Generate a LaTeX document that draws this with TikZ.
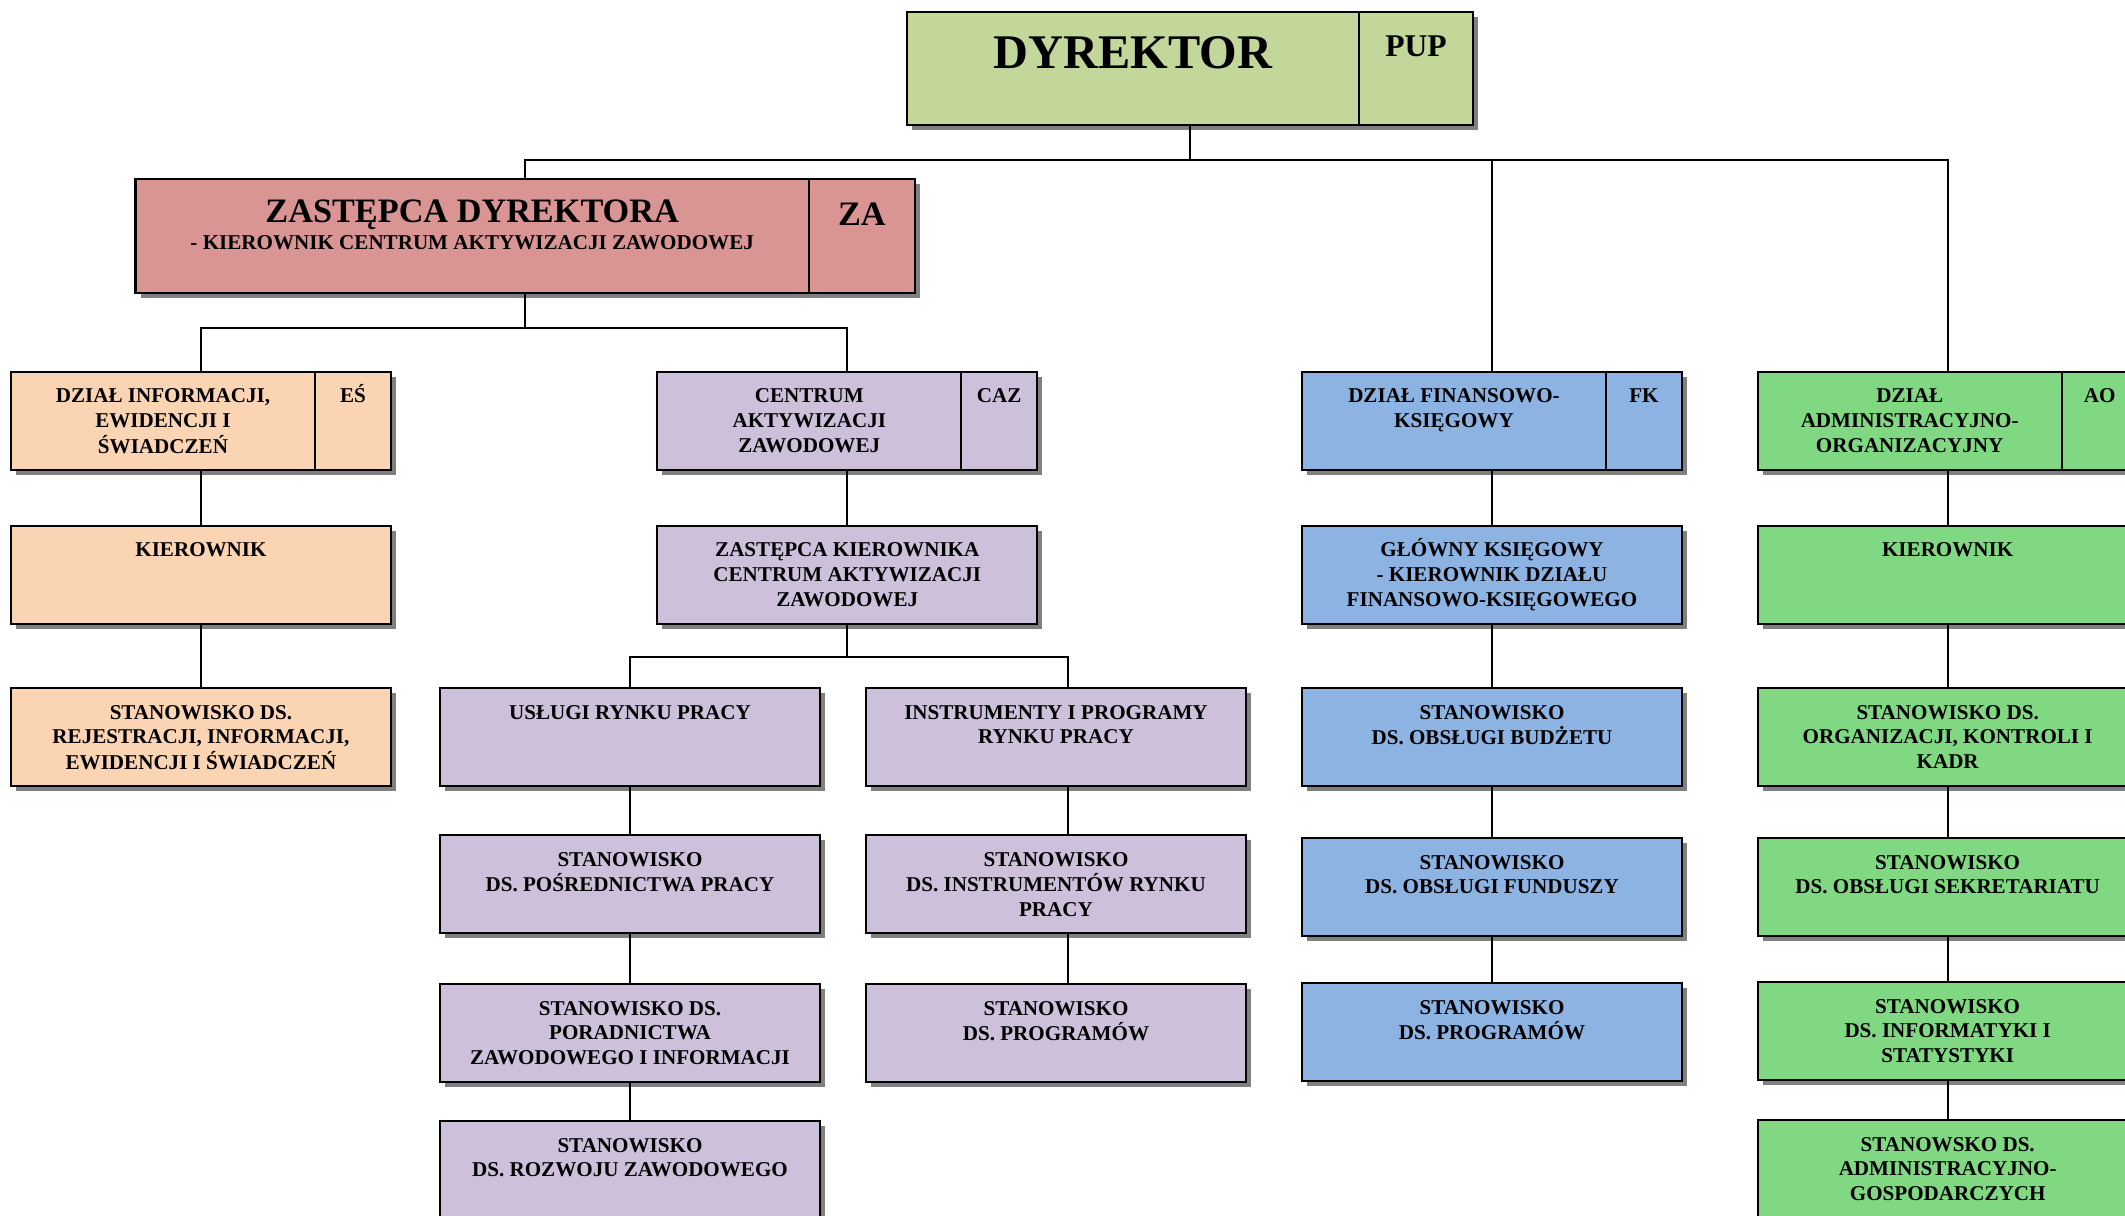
\documentclass[tikz,border=0pt]{standalone}
\usepackage{fontspec}
\setmainfont{Liberation Serif}
\usetikzlibrary{shadows}

\definecolor{dyrgreen}{HTML}{C4D79B}
\definecolor{zapink}{HTML}{D99594}
\definecolor{espeach}{HTML}{FBD4B4}
\definecolor{cazlilac}{HTML}{CCC0DA}
\definecolor{fkblue}{HTML}{8DB3E2}
\definecolor{aogreen}{HTML}{80D982}

% lines stacked from the top, baseline = first line
\newcommand\boxtext[1]{\begin{tabular}[t]{@{}c@{}}#1\end{tabular}}

\begin{document}
\begin{tikzpicture}[x=0.02cm, y=-0.02cm,
  box/.style={draw, line width=1.2pt, fill=#1, inner sep=0, outer sep=0, anchor=north west,
    minimum width=7.6cm, minimum height=1.96cm,
    general shadow={fill=black!50, shadow xshift=0.1cm, shadow yshift=-0.1cm}},
  lbl/.style={anchor=base, inner sep=0, font=\fontsize{12}{14}\selectfont\bfseries, yshift=#1},
  lbl/.default=-0.62cm,
  link/.style={line width=1pt},
  sep/.style={line width=1.2pt}]
\useasboundingbox (0,0) rectangle (2125,1216);

% dyrektor i zastepca
\node[box=dyrgreen, minimum width=11.33cm, minimum height=2.25cm] (dyr) at (906.6,12.2) {};
\draw[sep] ([xshift=-2.28cm]dyr.north east) -- ([xshift=-2.28cm]dyr.south east);
\node[lbl=-1.12cm, font=\fontsize{27.5}{32}\selectfont\bfseries] (dyr-t) at ([xshift=-1.14cm]dyr.north) {DYREKTOR};
\node[lbl=-0.88cm, font=\fontsize{18}{21}\selectfont\bfseries] (dyr-k) at ([xshift=-1.14cm]dyr.north east) {PUP};

\node[box=zapink, minimum width=15.59cm, minimum height=2.28cm] (za) at (135.5,179.3) {};
\draw[sep] ([xshift=-2.12cm]za.north east) -- ([xshift=-2.12cm]za.south east);
\node[lbl=-0.87cm, font=\fontsize{19.5}{23}\selectfont\bfseries] (za-t) at ([xshift=-1.06cm]za.north) {ZASTĘPCA DYREKTORA};
\node[lbl=-1.40cm] (za-s) at ([xshift=-1.06cm]za.north) {- KIEROWNIK CENTRUM AKTYWIZACJI ZAWODOWEJ};
\node[lbl=-0.93cm, font=\fontsize{19.5}{23}\selectfont\bfseries] (za-k) at ([xshift=-1.06cm]za.north east) {ZA};

% dzialy
\foreach \n/\col/\xpos/\txt/\kod in {es/espeach/11/{DZIAŁ INFORMACJI,\\EWIDENCJI I\\ŚWIADCZEŃ}/EŚ,
    caz/cazlilac/657.3/{CENTRUM\\AKTYWIZACJI\\ZAWODOWEJ}/CAZ,
    fk/fkblue/1302/{DZIAŁ FINANSOWO-\\KSIĘGOWY}/FK,
    ao/aogreen/1757.7/{DZIAŁ\\ADMINISTRACYJNO-\\ORGANIZACYJNY}/AO}{%
  \node[box=\col] (\n) at (\xpos,372) {};
  \draw[sep] ([xshift=-1.52cm]\n.north east) -- ([xshift=-1.52cm]\n.south east);
  \node[lbl] (\n-t) at ([xshift=-0.76cm]\n.north) {\boxtext{\txt}};
  \node[lbl] (\n-k) at ([xshift=-0.76cm]\n.north east) {\kod};}

% stanowiska
\foreach \n/\ypos/\txt in {esk/526/KIEROWNIK,
    es1/688/{STANOWISKO DS.\\REJESTRACJI, INFORMACJI,\\EWIDENCJI I ŚWIADCZEŃ}}{%
  \node[box=espeach] (\n) at (11,\ypos) {};
  \node[lbl] (\n-t) at (\n.north) {\boxtext{\txt}};}

\node[box=cazlilac] (cazz) at (657.3,526) {};
\node[lbl] (cazz-t) at (cazz.north) {\boxtext{ZASTĘPCA KIEROWNIKA\\CENTRUM AKTYWIZACJI\\ZAWODOWEJ}};

\foreach \n/\ypos/\txt in {usl/688/USŁUGI RYNKU PRACY,
    usl1/835/{STANOWISKO\\DS. POŚREDNICTWA PRACY},
    usl2/984/{STANOWISKO DS.\\PORADNICTWA\\ZAWODOWEGO I INFORMACJI},
    usl3/1121/{STANOWISKO\\DS. ROZWOJU ZAWODOWEGO}}{%
  \node[box=cazlilac] (\n) at (440,\ypos) {};
  \node[lbl] (\n-t) at (\n.north) {\boxtext{\txt}};}

\foreach \n/\ypos/\txt in {ins/688/{INSTRUMENTY I PROGRAMY\\RYNKU PRACY},
    ins1/835/{STANOWISKO\\DS. INSTRUMENTÓW RYNKU\\PRACY},
    ins2/984/{STANOWISKO\\DS. PROGRAMÓW}}{%
  \node[box=cazlilac] (\n) at (866,\ypos) {};
  \node[lbl] (\n-t) at (\n.north) {\boxtext{\txt}};}

\foreach \n/\ypos/\txt in {fk0/526/{GŁÓWNY KSIĘGOWY\\- KIEROWNIK DZIAŁU\\FINANSOWO-KSIĘGOWEGO},
    fk1/688/{STANOWISKO\\DS. OBSŁUGI BUDŻETU},
    fk2/838/{STANOWISKO\\DS. OBSŁUGI FUNDUSZY},
    fk3/983/{STANOWISKO\\DS. PROGRAMÓW}}{%
  \node[box=fkblue] (\n) at (1302,\ypos) {};
  \node[lbl] (\n-t) at (\n.north) {\boxtext{\txt}};}

\foreach \n/\ypos/\txt in {aok/526/KIEROWNIK,
    ao1/688/{STANOWISKO DS.\\ORGANIZACJI, KONTROLI I\\KADR},
    ao2/838/{STANOWISKO\\DS. OBSŁUGI SEKRETARIATU},
    ao3/982/{STANOWISKO\\DS. INFORMATYKI I\\STATYSTYKI},
    ao4/1120/{STANOWSKO DS.\\ADMINISTRACYJNO-\\GOSPODARCZYCH}}{%
  \node[box=aogreen] (\n) at (1757.7,\ypos) {};
  \node[lbl] (\n-t) at (\n.north) {\boxtext{\txt}};}

% polaczenia
\coordinate (top) at (0,160);
\coordinate (mid) at (0,328);
\coordinate (low) at (0,657);
\coordinate (ins-in) at ([xshift=0.24cm]ins.north);
\draw[link] (dyr.south) -- (dyr.south |- top);
\draw[link] (za.north) |- (ao.north |- top) -- (ao.north);
\draw[link] (fk.north) -- (fk.north |- top);
\draw[link] (za.south) -- (za.south |- mid);
\draw[link] (es.north) |- (caz.north |- mid) -- (caz.north);
\draw[link] (cazz.south) -- (cazz.south |- low);
\draw[link] (usl.north) |- (ins-in |- low) -- (ins-in);
\foreach \a/\b in {es/esk, esk/es1, caz/cazz, usl/usl1, usl1/usl2, usl2/usl3,
    fk/fk0, fk0/fk1, fk1/fk2, fk2/fk3, ao/aok, aok/ao1, ao1/ao2, ao2/ao3, ao3/ao4}
  \draw[link] (\a.south) -- (\b.north);
\foreach \a/\b in {ins/ins1, ins1/ins2}
  \draw[link] ([xshift=0.24cm]\a.south) -- ([xshift=0.24cm]\b.north);
\end{tikzpicture}
\end{document}
